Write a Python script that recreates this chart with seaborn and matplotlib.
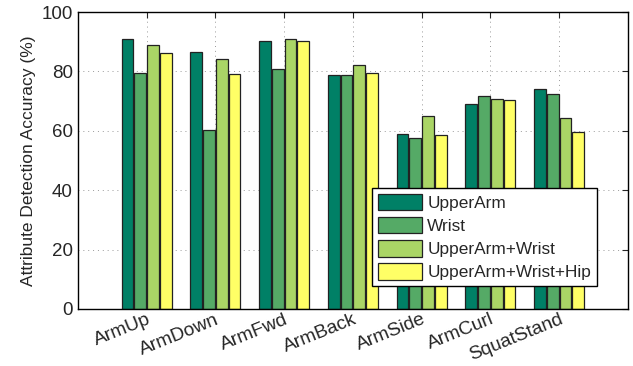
import pandas as pd
import matplotlib
matplotlib.use("Agg")
import matplotlib.pyplot as plt
import seaborn as sns

# accuracy per activity for each sensor placement
activities = ["ArmUp", "ArmDown", "ArmFwd", "ArmBack", "ArmSide", "ArmCurl", "SquatStand"]
upper_arm = [90.8, 86.5, 90.3, 78.9, 58.9, 68.9, 74.2]
wrist = [79.4, 60.4, 80.8, 78.9, 57.6, 71.8, 72.3]
upper_arm_wrist = [89.0, 84.2, 90.8, 82.3, 65.1, 70.8, 64.2]
upper_arm_wrist_hip = [86.1, 79.0, 90.3, 79.5, 58.5, 70.5, 59.5]
series_names = ["UpperArm", "Wrist", "UpperArm+Wrist", "UpperArm+Wrist+Hip"]

# matlab "summer" colormap, 4 steps
colors = ["#008066", "#55aa66", "#aad566", "#ffff66"]

rows = []
for name, vals in zip(series_names, [upper_arm, wrist, upper_arm_wrist, upper_arm_wrist_hip]):
    for act, v in zip(activities, vals):
        rows.append({"Activity": act, "Sensor": name, "Accuracy": v})
df = pd.DataFrame(rows)

sns.set_style("white")
plt.rcParams["font.family"] = ["Liberation Sans", "DejaVu Sans"]

fig = plt.figure(figsize=(6.33, 3.66), dpi=100)
ax = fig.add_axes([0.123, 0.156, 0.869, 0.811])

sns.barplot(data=df, x="Activity", y="Accuracy", hue="Sensor", hue_order=series_names,
            palette=colors, width=0.74, gap=0.08, edgecolor="#222222", linewidth=0.9,
            saturation=1, ax=ax)

ax.set_xlim(-1, 7)
ax.set_ylim(0, 100)
ax.set_yticks([0, 20, 40, 60, 80, 100])
ax.tick_params(axis="both", direction="in", top=True, right=True, length=4, labelsize=13.5)
ax.tick_params(axis="x", pad=1.5)
ax.set_xticks(range(len(activities)))
ax.set_xticklabels(activities, rotation=22, ha="right", rotation_mode="anchor", fontsize=13.8)
ax.set_xlabel("")
ax.set_ylabel("Attribute Detection Accuracy (%)", fontsize=12.5)
ax.grid(True, linestyle=(0, (1, 4)), color="#999999", linewidth=0.7)
ax.set_axisbelow(True)
for s in ax.spines.values():
    s.set_color("black")
    s.set_linewidth(1)

leg = ax.legend(loc="lower right", bbox_to_anchor=(0.96, 0.047), fontsize=12.4,
                handlelength=2.55, handleheight=1.1, labelspacing=0.35,
                handletextpad=0.3, borderpad=0.35, fancybox=False, framealpha=1)
leg.get_frame().set_edgecolor("black")
leg.get_frame().set_linewidth(1)

fig.savefig("out.png", dpi=100)
